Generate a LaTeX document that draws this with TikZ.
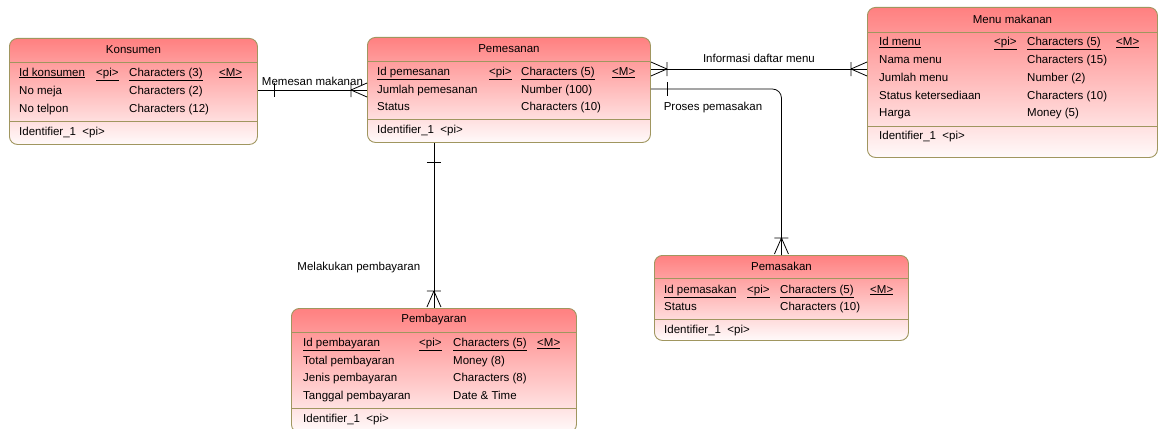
\documentclass[tikz,border=0pt]{standalone}
\usepackage{fontspec}
\setmainfont{Liberation Sans}
\usepackage{tikz}
\usetikzlibrary{calc}

\definecolor{entborder}{RGB}{160,150,95}
\definecolor{enttop}{RGB}{255,128,128}
\definecolor{entmid}{RGB}{255,178,178}
\definecolor{entbottom}{RGB}{255,250,250}

\begin{document}
\begin{tikzpicture}[x=1pt,y=-1pt,
  font=\fontsize{11.5}{13}\selectfont,
  entity/.style={draw=entborder,line width=0.9pt,rounded corners=8pt,
    anchor=north west,inner sep=0pt,
    top color=enttop,middle color=entmid,bottom color=entbottom},
  sepline/.style={draw=entborder,line width=0.9pt},
  attr/.style={anchor=west,inner sep=0pt,text height=8.5pt,text depth=2.5pt},
  enttitle/.style={inner sep=0pt},
  rel/.style={line width=0.8pt},
  onemark/.pic={\draw[rel] (0,-7) -- (0,7);},
  crowfoot/.pic={\draw[rel] (0,0) -- (16,-7) (0,0) -- (16,7) (0,-7) -- (0,7);}
]
\clip (0,0) rectangle (1158,428);

% Konsumen
\node[entity,minimum width=248pt,minimum height=106pt] (konsumen) at (9,38) {};
\node[enttitle] at ($(konsumen.north)+(0,12)$) {Konsumen};
\draw[sepline] (konsumen.west |- 0,62) -- (konsumen.east |- 0,62);
\draw[sepline] (konsumen.west |- 0,121) -- (konsumen.east |- 0,121);
\node[attr] at (19,73) {\underline{Id konsumen}};
\node[attr] at (96,73) {\underline{<pi>}};
\node[attr] at (129,73) {\underline{Characters (3)}};
\node[attr] at (219,73) {\underline{<M>}};
\foreach \nm/\tp [count=\i] in {No meja/Characters (2),No telpon/Characters (12)}{
  \node[attr] at (19,{73+18*\i}) {\nm};
  \node[attr] at (129,{73+18*\i}) {\tp};
}
\node[attr] at (19,132) {Identifier\_1\ \ <pi>};

% Pemesanan
\node[entity,minimum width=283pt,minimum height=105pt] (pemesanan) at (367,37) {};
\node[enttitle] at ($(pemesanan.north)+(0,12)$) {Pemesanan};
\draw[sepline] (pemesanan.west |- 0,61) -- (pemesanan.east |- 0,61);
\draw[sepline] (pemesanan.west |- 0,119) -- (pemesanan.east |- 0,119);
\node[attr] at (377,72.5) {\underline{Id pemesanan}};
\node[attr] at (489,72.5) {\underline{<pi>}};
\node[attr] at (521,72.5) {\underline{Characters (5)}};
\node[attr] at (612,72.5) {\underline{<M>}};
\foreach \nm/\tp [count=\i] in {Jumlah pemesanan/Number (100),Status/Characters (10)}{
  \node[attr] at (377,{72.5+17.6*\i}) {\nm};
  \node[attr] at (521,{72.5+17.6*\i}) {\tp};
}
\node[attr] at (377,130) {Identifier\_1\ \ <pi>};

% Menu makanan
\node[entity,minimum width=290pt,minimum height=150pt] (menu) at (867,7) {};
\node[enttitle] at ($(menu.north)+(0,12.5)$) {Menu makanan};
\draw[sepline] (menu.west |- 0,32) -- (menu.east |- 0,32);
\draw[sepline] (menu.west |- 0,126) -- (menu.east |- 0,126);
\node[attr] at (879,42.7) {\underline{Id menu}};
\node[attr] at (994,42.7) {\underline{<pi>}};
\node[attr] at (1027,42.7) {\underline{Characters (5)}};
\node[attr] at (1116,42.7) {\underline{<M>}};
\foreach \nm/\tp [count=\i] in {Nama menu/Characters (15),Jumlah menu/Number (2),
    Status ketersediaan/Characters (10),Harga/Money (5)}{
  \node[attr] at (879,{42.7+17.8*\i}) {\nm};
  \node[attr] at (1027,{42.7+17.8*\i}) {\tp};
}
\node[attr] at (879,136.7) {Identifier\_1\ \ <pi>};

% Pembayaran
\node[entity,minimum width=285pt,minimum height=124pt] (pembayaran) at (291,308) {};
\node[enttitle] at ($(pembayaran.north)+(0,12)$) {Pembayaran};
\draw[sepline] (pembayaran.west |- 0,332) -- (pembayaran.east |- 0,332);
\draw[sepline] (pembayaran.west |- 0,408) -- (pembayaran.east |- 0,408);
\node[attr] at (303,343.3) {\underline{Id pembayaran}};
\node[attr] at (419,343.3) {\underline{<pi>}};
\node[attr] at (453,343.3) {\underline{Characters (5)}};
\node[attr] at (537,343.3) {\underline{<M>}};
\foreach \nm/\tp [count=\i] in {Total pembayaran/Money (8),Jenis pembayaran/Characters (8),
    Tanggal pembayaran/Date \& Time}{
  \node[attr] at (303,{343.3+17.8*\i}) {\nm};
  \node[attr] at (453,{343.3+17.8*\i}) {\tp};
}
\node[attr] at (303,419) {Identifier\_1\ \ <pi>};

% Pemasakan
\node[entity,minimum width=254pt,minimum height=85pt] (pemasakan) at (654,255) {};
\node[enttitle] at ($(pemasakan.north)+(0,11.5)$) {Pemasakan};
\draw[sepline] (pemasakan.west |- 0,278) -- (pemasakan.east |- 0,278);
\draw[sepline] (pemasakan.west |- 0,319) -- (pemasakan.east |- 0,319);
\node[attr] at (664,290) {\underline{Id pemasakan}};
\node[attr] at (747,290) {\underline{<pi>}};
\node[attr] at (780,290) {\underline{Characters (5)}};
\node[attr] at (870,290) {\underline{<M>}};
\node[attr] at (664,307) {Status};
\node[attr] at (780,307) {Characters (10)};
\node[attr] at (664,330) {Identifier\_1\ \ <pi>};

% Memesan makanan
\coordinate (kons1) at (konsumen.east |- 0,90);
\coordinate (pesan1) at (pemesanan.west |- 0,90);
\draw[rel] (kons1) -- node[above=1pt] {Memesan makanan} (pesan1);
\pic at ($(kons1)+(16,0)$) {onemark};
\pic at ($(pesan1)+(-16,0)$) {crowfoot};

% Informasi daftar menu
\coordinate (pesan2) at (pemesanan.east |- 0,69);
\coordinate (menu1) at (menu.west |- 0,69);
\draw[rel] (pesan2) -- node[above=3pt] {Informasi daftar menu} (menu1);
\pic[rotate=180] at ($(pesan2)+(16,0)$) {crowfoot};
\pic at ($(menu1)+(-16,0)$) {crowfoot};

% Proses pemasakan
\coordinate (pesan3) at (pemesanan.east |- 0,89);
\draw[rel,rounded corners=9pt] (pesan3) -| (pemasakan.north);
\pic at ($(pesan3)+(16,0)$) {onemark};
\pic[rotate=-90] at ($(pemasakan.north)+(0,-17)$) {crowfoot};
\node (proseslbl) at (713,108) {Proses pemasakan};

% Melakukan pembayaran
\coordinate (pesan4) at (pembayaran.north |- pemesanan.south);
\draw[rel] (pesan4) -- node[pos=0.753,left=10pt] {Melakukan pembayaran} (pembayaran.north);
\pic[rotate=90] at ($(pesan4)+(0,19)$) {onemark};
\pic[rotate=-90] at ($(pembayaran.north)+(0,-17)$) {crowfoot};

\end{tikzpicture}
\end{document}
